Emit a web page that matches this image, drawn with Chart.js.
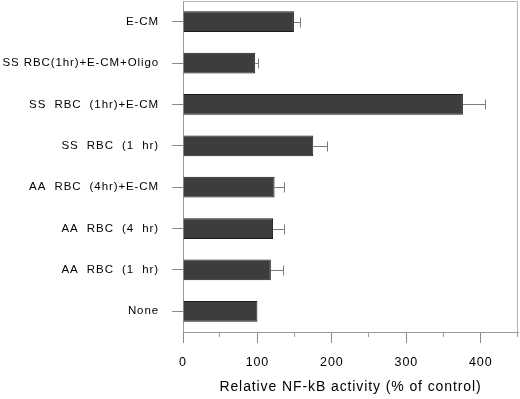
<!DOCTYPE html>
<html>
<head>
<meta charset="utf-8">
<script src="https://cdn.jsdelivr.net/npm/chart.js@4.4.1/dist/chart.umd.min.js"></script>
<style>
  html, body { margin: 0; padding: 0; background: #fff; }
  #chart { display: block; }
</style>
</head>
<body>
<canvas id="chart" width="520" height="399"></canvas>
<script>
// categories top to bottom
const categories = [
  'E-CM',
  'SS RBC(1hr)+E-CM+Oligo',
  'SS  RBC  (1hr)+E-CM',
  'SS  RBC  (1  hr)',
  'AA  RBC  (4hr)+E-CM',
  'AA  RBC  (4  hr)',
  'AA  RBC  (1  hr)',
  'None'
];
const activity = [149, 97, 376, 175, 123, 121, 118, 100];
const errorTop = [157, 101, 405, 193, 135, 135, 134, 100];
const xTicks = [0, 100, 200, 300, 400];
const minorTicks = [50, 150, 250, 350, 450];

const fontFamily = '"Liberation Sans", Arial, Helvetica, sans-serif';

// canvas letter spacing, the scan has wide-set text
const spacing = {
  id: 'spacing',
  beforeUpdate(chart) { chart.ctx.letterSpacing = '0.9px'; },
  beforeLayout(chart) { chart.ctx.letterSpacing = '0.9px'; },
  beforeDraw(chart) { chart.ctx.letterSpacing = '0.9px'; }
};

// error whiskers, minor ticks and the top/right frame
const extras = {
  id: 'extras',
  afterDatasetsDraw(chart) {
    const ctx = chart.ctx;
    const x = chart.scales.x;
    const y = chart.scales.y;
    const area = chart.chartArea;
    ctx.save();
    ctx.strokeStyle = '#7a7a7a';
    ctx.lineWidth = 1;
    errorTop.forEach(function (v, i) {
      if (v <= activity[i]) return;
      const yc = Math.round(y.getPixelForValue(i)) + 0.5;
      const x0 = x.getPixelForValue(activity[i]);
      const x1 = Math.round(x.getPixelForValue(v)) + 0.5;
      ctx.beginPath();
      ctx.moveTo(x0, yc);
      ctx.lineTo(x1, yc);
      ctx.moveTo(x1, yc - 5);
      ctx.lineTo(x1, yc + 5);
      ctx.stroke();
    });
    ctx.strokeStyle = '#a0a0a0';
    minorTicks.forEach(function (v) {
      const px = Math.round(x.getPixelForValue(v)) - 0.5;
      ctx.beginPath();
      ctx.moveTo(px, area.bottom);
      ctx.lineTo(px, area.bottom + 5);
      ctx.stroke();
    });
    ctx.strokeStyle = '#b4b4b4';
    ctx.beginPath();
    ctx.moveTo(area.left, area.top + 0.5);
    ctx.lineTo(area.right - 0.5, area.top + 0.5);
    ctx.lineTo(area.right - 0.5, area.bottom);
    ctx.stroke();
    ctx.restore();
  }
};

const ctx = document.getElementById('chart').getContext('2d');
const config = {
  type: 'bar',
  data: {
    labels: categories,
    datasets: [{
      data: activity,
      backgroundColor: '#3d3d3d',
      borderColor: '#1a1a1a',
      borderWidth: 1,
      barPercentage: 0.5,
      categoryPercentage: 1
    }]
  },
  options: {
    indexAxis: 'y',
    responsive: false,
    animation: false,
    layout: { padding: { top: 1, right: 2, left: 0, bottom: 0 } },
    plugins: {
      legend: { display: false },
      tooltip: { enabled: false }
    },
    scales: {
      x: {
        min: 0,
        max: 450,
        afterBuildTicks(axis) {
          axis.ticks = xTicks.map(function (v) { return { value: v }; });
        },
        afterFit(axis) { axis.height = 67; },
        grid: {
          drawOnChartArea: false,
          drawTicks: true,
          tickLength: 11,
          color: '#8a8a8a'
        },
        border: { display: true, color: '#9a9a9a', width: 1 },
        ticks: {
          color: '#000',
          padding: 12,
          maxRotation: 0,
          font: { family: fontFamily, size: 12.5 }
        },
        title: {
          display: true,
          text: 'Relative NF-kB activity (% of control)',
          color: '#000',
          padding: { top: 4, bottom: 3 },
          font: { family: fontFamily, size: 14 }
        }
      },
      y: {
        afterFit(axis) {
          axis.width = 183;
          axis.paddingTop = 0;
          axis.paddingBottom = 0;
        },
        grid: {
          offset: false,
          drawOnChartArea: false,
          drawTicks: true,
          tickLength: 11,
          color: '#8a8a8a'
        },
        border: { display: true, color: '#9a9a9a', width: 1 },
        ticks: {
          color: '#000',
          padding: 13,
          font: { family: fontFamily, size: 11.5 }
        }
      }
    }
  },
  plugins: [spacing, extras]
};
const myChart = new Chart(ctx, config);
</script>
</body>
</html>
